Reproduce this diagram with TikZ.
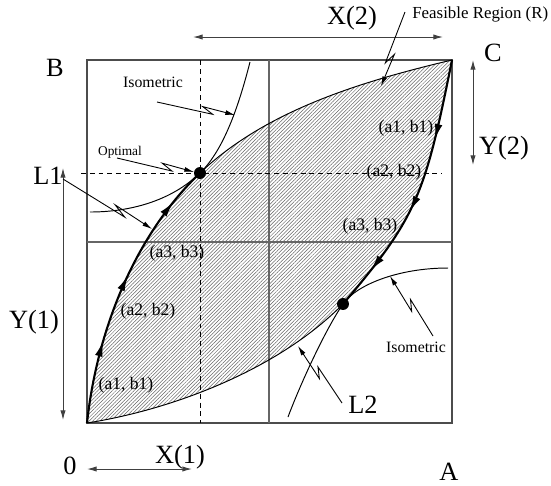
\documentclass[tikz,border=0pt]{standalone}
\usepackage{fontspec}
\setmainfont{Liberation Serif}
\usetikzlibrary{arrows.meta,calc,patterns.meta,decorations.markings}

% lightning arrow: start, tip, where the jog sits
\newcommand{\zigzag}[3]{%
  \pgfmathsetmacro\zagback{#3-0.14}%
  \draw[zap] (#1) -- ($(#1)!#3!(#2)!1.7pt!-90:(#2)$) -- ($(#1)!\zagback!(#2)!1.7pt!90:(#2)$) -- (#2);}

\begin{document}
\begin{tikzpicture}[
  x=0.02cm, y=-0.02cm,
  frame/.style={draw=black!70, line width=0.6pt},
  gridline/.style={draw=black!60, line width=0.6pt},
  guide/.style={draw, line width=0.5pt, dash pattern=on 2.8pt off 2.2pt},
  bound/.style={draw, line width=0.55pt},
  hatch/.style={pattern={Lines[angle=45,distance=1.45pt,line width=0.3pt]}, pattern color=black!60},
  dimarrow/.style={draw=black!75, line width=0.55pt, {Latex[length=5.5pt,width=3pt]}-{Latex[length=5.5pt,width=3pt]}},
  zap/.style={line width=0.5pt, -{Latex[length=5.5pt,width=2.8pt]}},
  flowup/.style={line width=1.2pt, postaction={decorate}, decoration={markings,
    mark=at position 0.3 with {\arrow{Latex[length=9pt,width=4.4pt]}},
    mark=at position 0.55 with {\arrow{Latex[length=9pt,width=4.4pt]}},
    mark=at position 0.86 with {\arrow{Latex[length=9pt,width=4.4pt]}}}},
  flowdown/.style={line width=1.2pt, postaction={decorate}, decoration={markings,
    mark=at position 0.3 with {\arrow{Latex[length=9pt,width=4.4pt]}},
    mark=at position 0.58 with {\arrow{Latex[length=9pt,width=4.4pt]}},
    mark=at position 0.84 with {\arrow{Latex[length=9pt,width=4.4pt]}}}},
  biglbl/.style={inner sep=0pt, font=\fontsize{15}{18}\selectfont},
  lbl/.style={inner sep=0pt, font=\fontsize{9}{11}\selectfont},
  tinylbl/.style={inner sep=0pt, font=\fontsize{7.6}{9}\selectfont},
  pairlbl/.style={inner sep=0pt, font=\fontsize{10}{12}\selectfont},
  pt/.style={circle, fill, inner sep=0pt, minimum size=6.8pt},
]
\useasboundingbox (0,0) rectangle (551,485);

% --- Key points ---
\coordinate (O) at (87,423);
\coordinate (C) at (452,60);
\coordinate (opt) at (200,173);
\coordinate (low) at (343,304);

% --- Feasible region ---
\fill[hatch] (O) .. controls (97,330) and (135,235) .. (opt)
  .. controls (266,110) and (363,81) .. (C)
  .. controls (425,195) and (417,217) .. (low)
  .. controls (280,368) and (176,409) .. (O) -- cycle;

% --- Square and grid ---
\draw[frame] (87,60) rectangle (452,423);
\draw[gridline] (269,60) -- (269,423);
\draw[gridline] (87,242) -- (452,242);
\draw[guide] (200,60) -- (200,423);
\draw[guide] (81,173) -- (442,173);

% --- Boundary ---
\draw[bound] (opt) .. controls (266,110) and (363,81) .. (C);
\draw[bound] (low) .. controls (280,368) and (176,409) .. (O);
\draw[flowup] (O) .. controls (97,330) and (135,235) .. (opt);
\draw[flowdown] (C) .. controls (425,195) and (417,217) .. (low);

% --- Isometric curves ---
\coordinate (iso1a) at (90,212);
\coordinate (iso1b) at (250,62);
\draw[bound] (iso1a) .. controls (130,212) and (171,201) .. (opt)
  .. controls (225,149) and (240,101) .. (iso1b);
\coordinate (iso2a) at (288,417);
\coordinate (iso2b) at (448,268);
\draw[bound] (iso2a) .. controls (300,385) and (325,330) .. (low)
  .. controls (356,285) and (398,268) .. (iso2b);

\node[pt] (optdot) at (opt) {};
\node[pt] (lowdot) at (low) {};

% --- Dimension arrows ---
\coordinate (x2l) at (193,37);
\coordinate (x2r) at (443,37);
\draw[dimarrow] (x2l) -- (x2r);
\coordinate (y2t) at (473,60);
\coordinate (y2b) at (473,165);
\draw[dimarrow] (y2t) -- (y2b);
\coordinate (y1t) at (63,168);
\coordinate (y1b) at (63,420);
\draw[dimarrow] (y1t) -- (y1b);
\coordinate (x1l) at (87,469);
\coordinate (x1r) at (192,469);
\draw[dimarrow] (x1l) -- (x1r);

% --- Labels ---
\node[biglbl] (lB) at (55,68) {B};
\node[biglbl] (lC) at (493,53) {C};
\node[biglbl] (lA) at (449,472) {A};
\node[biglbl] (l0) at (70,466) {0};
\node[biglbl] (lX2) at (352,18) {X(2)};
\node[biglbl] (lY2) at (504,148) {Y(2)};
\node[biglbl] (lX1) at (180,457) {X(1)};
\node[biglbl] (lY1) at (34,322) {Y(1)};
\node[biglbl] (lL1) at (48,176) {L1};
\node[biglbl] (lL2) at (363,405) {L2};
\node[lbl] (liso1) at (153,82) {Isometric};
\node[lbl] (liso2) at (416,347) {Isometric};
\node[tinylbl] (lopt) at (120,152) {Optimal};
\node[lbl, anchor=west, font=\fontsize{9.6}{11}\selectfont] (lfeas) at (412,14) {Feasible Region (R)};

\node[pairlbl] (p1) at (126,385) {(a1, b1)};
\node[pairlbl] (p2) at (148,311) {(a2, b2)};
\node[pairlbl] (p3) at (177,253) {(a3, b3)};
\node[pairlbl] (q1) at (406,128) {(a1, b1)};
\node[pairlbl] (q2) at (394,172) {(a2, b2)};
\node[pairlbl] (q3) at (370,226) {(a3, b3)};

% --- Pointers ---
\coordinate (feasS) at (405,12);
\coordinate (feasE) at (381,86);
\zigzag{feasS}{feasE}{0.7}
\coordinate (iso1S) at (157,102);
\coordinate (iso1E) at (235,115);
\zigzag{iso1S}{iso1E}{0.72}
\coordinate (optS) at (117,158);
\coordinate (optE) at (194,172);
\zigzag{optS}{optE}{0.72}
\coordinate (l1S) at (63,179);
\coordinate (l1E) at (152,229);
\zigzag{l1S}{l1E}{0.71}
\coordinate (iso2S) at (433,336);
\coordinate (iso2E) at (390,276);
\zigzag{iso2S}{iso2E}{0.58}
\coordinate (l2S) at (342,403);
\coordinate (l2E) at (298,346);
\zigzag{l2S}{l2E}{0.6}

\end{tikzpicture}
\end{document}
